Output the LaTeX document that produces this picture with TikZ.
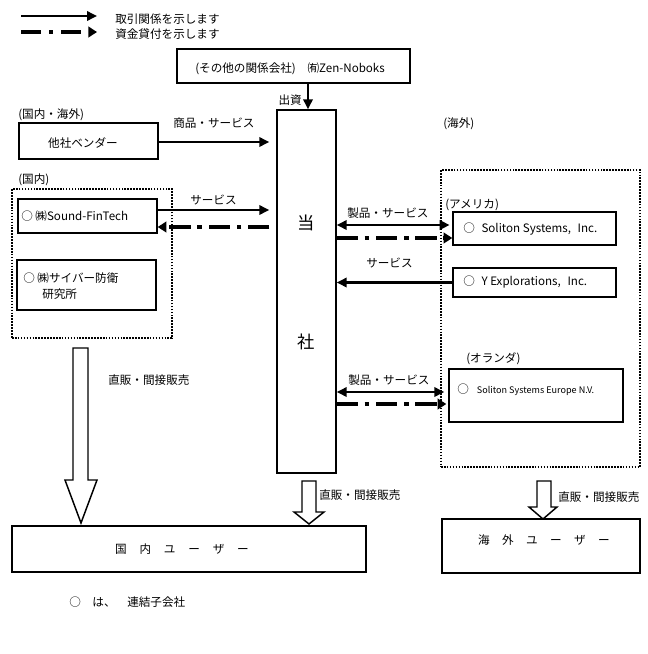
\documentclass[tikz,border=0pt]{standalone}
\usepackage{fontspec}
\setmainfont{Noto Sans CJK JP}
\usetikzlibrary{arrows.meta,calc}
\newcommand{\txtfont}{\fontsize{8.7pt}{10.4pt}\selectfont}
\newcommand{\bigsfont}{\fontsize{13pt}{15pt}\selectfont}
\newcommand{\smlfont}{\fontsize{6.8pt}{8pt}\selectfont}
\begin{document}
\begin{tikzpicture}[x=0.75pt,y=-0.75pt,
  every node/.style={inner sep=0pt, font=\txtfont},
  box/.style 2 args={draw, line width=1.1pt, minimum width=#1*0.75pt, minimum height=#2*0.75pt},
  dotbox/.style 2 args={draw, line width=1.7pt, dash pattern=on 1.2pt off 1pt, minimum width=#1*0.75pt, minimum height=#2*0.75pt},
  arr/.style={line width=1.8pt, -{Triangle[length=7.5pt,width=7pt]}},
  darr/.style={line width=1.8pt, {Triangle[length=7.5pt,width=7pt]}-{Triangle[length=7.5pt,width=7pt]}},
  loan/.style={line width=2.8pt, dash pattern=on 16pt off 5pt on 3.5pt off 5pt, -{Triangle[length=6.5pt,width=8pt]}},
  hollow/.style={draw, line width=1.1pt, fill=white, line join=miter},
  lbl/.style={anchor=west}]
\useasboundingbox (0,0) rectangle (648,654);

% legend
\coordinate (lg1a) at (21,16); \coordinate (lg1b) at (97,16);
\coordinate (lg2a) at (21,32); \coordinate (lg2b) at (97,32);
\draw[arr] (lg1a) -- (lg1b);
\draw[line width=2.8pt, dash pattern=on 15pt off 6pt on 3pt off 6pt, -{Triangle[length=6.5pt,width=8pt]}] (lg2a) -- (lg2b);
\node[lbl] (lgt1) at (115,19) {取引関係を示します};
\node[lbl] (lgt2) at (115,34) {資金貸付を示します};

% top box and main box
\node[box={233}{34}] (top) at (293.5,66) {};
\node[lbl] (toptxt) at (195,69) {(その他の関係会社)　㈲Zen-Noboks};
\node[box={59}{363}] (main) at (306.5,291.5) {};
\node[font=\bigsfont] (m1) at (306.5,223) {当};
\node[font=\bigsfont] (m2) at (306.5,342) {社};
\draw[arr] ([xshift=14.5*0.75pt]top.south) -- ([xshift=1.5*0.75pt]main.north);
\node[anchor=east] (cap) at (302,100) {出資};

% left side
\node[lbl] (l1) at (18,115) {(国内・海外)};
\node[box={139}{36}] (vendor) at (88.5,141) {};
\node (vtxt) at (83,143) {他社ベンダー};
\node[lbl] (l2) at (18,180) {(国内)};
\node[dotbox={160}{149}] (domdot) at (92,263.5) {};
\node[box={139}{34}] (sound) at (87.5,216) {};
\node[lbl] (stxt) at (21,216) {○ ㈱Sound-FinTech};
\node[box={139}{50}] (cyber) at (86.5,285) {};
\node[lbl] (ctxt1) at (23,278) {○ ㈱サイバー防衛};
\node[lbl] (ctxt2) at (42,294) {研究所};

\coordinate (v1) at ($(vendor.east)+(0,1)$);
\draw[arr, shorten >=5.25pt] (v1) -- (v1 -| main.west);
\node[lbl] (vl) at (173,123) {商品・サービス};
\coordinate (s1) at ($(sound.east)+(0,-6)$);
\draw[arr, shorten >=5.25pt] (s1) -- (s1 -| main.west);
\node[lbl] (sl) at (190,200) {サービス};
\coordinate (s2) at ($(sound.east)+(0,11)$);
\draw[loan, shorten <=5.25pt] (s2 -| main.west) -- (s2);

% right side
\node[lbl] (r1) at (443,124) {(海外)};
\node[dotbox={199}{297}] (ovdot) at (540.5,318.5) {};
\node[lbl] (r2) at (445,205) {(アメリカ)};
\node[box={163}{33}] (sol) at (534.5,228.5) {};
\node[lbl] (soltxt) at (463,229) {○\hspace{5pt}Soliton Systems,\hspace{5pt}Inc.};
\node[box={163}{29}] (yexp) at (534.5,282.5) {};
\node[lbl] (ytxt) at (463,282) {○\hspace{5pt}Y Explorations,\hspace{5pt}Inc.};
\node[lbl] (r3) at (466,359) {(オランダ)};
\node[box={174}{53}] (eu) at (536,395.5) {};
\node[lbl] (eutxt) at (457,390) {○\hspace{6pt}{\smlfont Soliton Systems Europe N.V.}};

\coordinate (a1) at ($(sol.west)+(0,-3.5)$);
\draw[darr, shorten >=2pt] (a1 -| main.east) -- (a1);
\node[lbl] (al1) at (347,213) {製品・サービス};
\coordinate (a2) at ($(sol.west)+(0,9.5)$);
\draw[loan] (a2 -| main.east) -- (a2);
\draw[arr] (yexp.west) -- (yexp.west -| main.east);
\node[lbl] (yl) at (366,263) {サービス};
\coordinate (e1) at ($(eu.west)+(0,-3.5)$);
\draw[darr, shorten >=3pt] (e1 -| main.east) -- (e1);
\node[lbl] (el1) at (348,380) {製品・サービス};
\coordinate (e2) at ($(eu.west)+(0,8.5)$);
\draw[loan, shorten >=1.5pt] (e2 -| main.east) -- (e2);

% users
\node[box={354}{46}] (dom) at (189,549) {};
\node (domtxt) at (182,549) {国\hspace{9.6pt}内\hspace{9.6pt}ユ\hspace{9.6pt}ー\hspace{9.6pt}ザ\hspace{9.6pt}ー};
\node[box={198}{54}] (ov) at (541,546) {};
\node (ovtxt) at (544,540) {海\hspace{9.3pt}外\hspace{9.3pt}ユ\hspace{9.3pt}ー\hspace{9.3pt}ザ\hspace{9.3pt}ー};

% hollow block arrows
\draw[hollow] (73,348) -- (88,348) -- (88,480) -- (97,480) -- (81,523) -- (65,480) -- (73,480) -- cycle;
\node[lbl] (hl1) at (108,380) {直販・間接販売};
\draw[hollow] (302,481) -- (316,481) -- (316,512) -- (324,512) -- (309,524) -- (294,512) -- (302,512) -- cycle;
\node[lbl] (hl2) at (319,495) {直販・間接販売};
\draw[hollow] (537,481) -- (551,481) -- (551,507) -- (557,507) -- (543,519) -- (529,507) -- (537,507) -- cycle;
\node[lbl] (hl3) at (558,497) {直販・間接販売};

% footnote
\node[lbl] (foot) at (69,602) {○　は、　連結子会社};
\end{tikzpicture}
\end{document}
